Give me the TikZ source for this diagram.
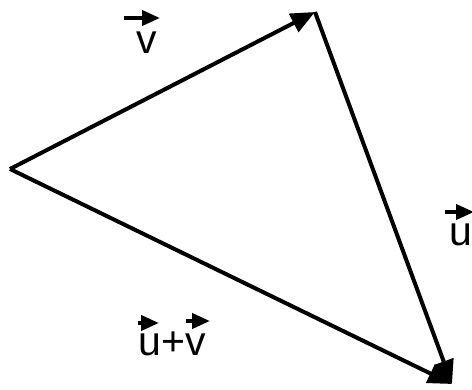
\documentclass[tikz,border=0pt]{standalone}
\usepackage{fontspec}
\setmainfont{Liberation Sans}
\usetikzlibrary{arrows.meta}
\begin{document}
\begin{tikzpicture}[x=1pt,y=-1pt,
  vec/.style={line width=4pt,-{Triangle[length=24pt,width=20pt]}},
  accent/.style={line width=4pt,-{Triangle[length=18pt,width=15pt]}},
  lbl/.style={font=\fontsize{41}{41}\selectfont,inner sep=0pt,anchor=base}]
\useasboundingbox (0,0) rectangle (472,389);
\coordinate (O) at (10,169);
\coordinate (T) at (315,12);
\coordinate (B) at (452,384);
\draw[vec] (O) -- (T);
\draw[vec] (T) -- (B);
\draw[vec] (O) -- (B);
\node[lbl] (lv) at (147,53) {v};
\node[lbl] (lu) at (461,245) {u};
\node[lbl] (luv) at (172,355) {u+v};
\coordinate (av1) at (124,18);
\coordinate (av2) at (160,18);
\draw[accent] (av1) -- (av2);
\coordinate (au1) at (445,212);
\coordinate (au2) at (474,212);
\draw[accent] (au1) -- (au2);
\coordinate (auv1) at (138,323);
\coordinate (auv2) at (159,323);
\draw[accent] (auv1) -- (auv2);
\coordinate (auv3) at (186,321);
\coordinate (auv4) at (210,321);
\draw[accent] (auv3) -- (auv4);
\end{tikzpicture}
\end{document}
